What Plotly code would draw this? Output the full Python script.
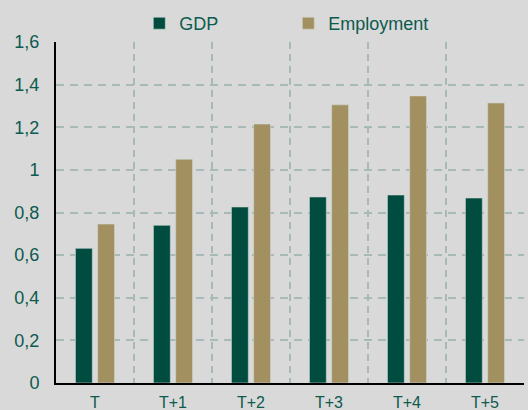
import plotly.graph_objects as go

categories = ["T", "T+1", "T+2", "T+3", "T+4", "T+5"]
gdp = [0.632, 0.740, 0.826, 0.873, 0.882, 0.868]
employment = [0.746, 1.050, 1.215, 1.305, 1.347, 1.314]
y_tickvals = [0, 0.2, 0.4, 0.6, 0.8, 1.0, 1.2, 1.4, 1.6]
y_ticktext = ["0", "0,2", "0,4", "0,6", "0,8", "1", "1,2", "1,4", "1,6"]

bg = "#d9d9d9"
txt = "#0d5a4e"
grid = "#a8bab6"

fig = go.Figure()
fig.add_trace(go.Bar(name="GDP", x=categories, y=gdp, marker_color="#004d40",
                     marker_line=dict(color="#cfd8d4", width=0.6)))
fig.add_trace(go.Bar(name="Employment", x=categories, y=employment, marker_color="#a39060",
                     marker_line=dict(color="#cfd8d4", width=0.6)))

fig.update_layout(
    width=528, height=410,
    paper_bgcolor=bg, plot_bgcolor=bg,
    margin=dict(l=56, r=4, t=42, b=27, autoexpand=False),
    barmode="group", bargap=0.43, bargroupgap=0.24,
    font=dict(family="Liberation Sans, Arial, sans-serif", color=txt, size=16),
    showlegend=True,
    legend=dict(orientation="h", x=0.178, xanchor="left", y=1.0, yanchor="bottom",
                font=dict(size=18, color=txt), bgcolor="rgba(0,0,0,0)",
                entrywidth=104, entrywidthmode="pixels", itemwidth=30,
                traceorder="normal"),
)
fig.update_xaxes(
    type="category", tickson="boundaries", showgrid=True, gridcolor=grid,
    griddash="7px,5px", gridwidth=1.5, showline=True, linecolor="black", linewidth=2,
    ticks="", tickfont=dict(size=16, color=txt), ticklabelstandoff=4, zeroline=False,
)
fig.update_yaxes(
    range=[0, 1.6], tickvals=y_tickvals, ticktext=y_ticktext, showgrid=True,
    gridcolor=grid, griddash="8px,6px", gridwidth=1.5, showline=True, linecolor="black",
    linewidth=2, ticks="", tickfont=dict(size=18, color=txt), ticklabelstandoff=11,
    zeroline=False,
)

fig.write_html(
    "out.html",
    config={"displayModeBar": False},
    post_script="document.body.style.margin='0';document.body.style.background='#d9d9d9';",
)
